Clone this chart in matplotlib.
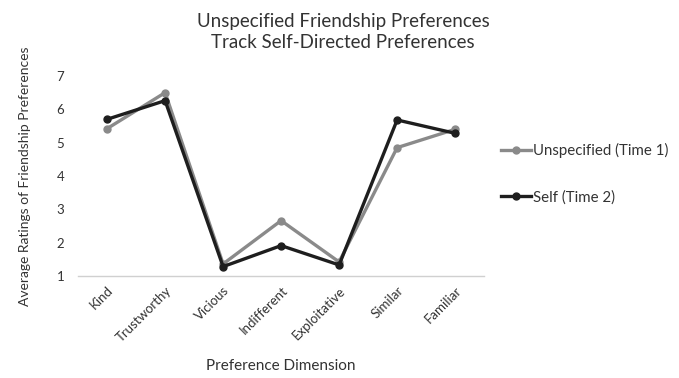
import matplotlib.pyplot as plt
import numpy as np

categories = ['Kind', 'Trustworthy', 'Vicious', 'Indifferent', 'Exploitative', 'Similar', 'Familiar']
unspecified = [5.42, 6.50, 1.36, 2.66, 1.42, 4.85, 5.40]
self_pref = [5.70, 6.26, 1.28, 1.91, 1.33, 5.68, 5.28]
yticks = [1, 2, 3, 4, 5, 6, 7]

plt.rcParams['font.family'] = ['Lato', 'DejaVu Sans']

fig = plt.figure(figsize=(6.79, 3.78), dpi=100)
ax = fig.add_axes([0.115, 0.27, 0.598, 0.529])

x = np.arange(len(categories))
ax.plot(x, unspecified, color='#8a8a8a', lw=2.4, marker='o', ms=5,
        label='Unspecified (Time 1)', zorder=2)
ax.plot(x, self_pref, color='#1e1e1e', lw=2.4, marker='o', ms=5,
        label='Self (Time 2)', zorder=3)

ax.set_xlim(-0.5, len(categories) - 0.5)
ax.set_ylim(1, 7)
ax.set_yticks(yticks)
ax.set_xticks(x)
ax.set_xticklabels(categories, rotation=45, ha='right', rotation_mode='anchor', fontsize=9.5, color='#333333')
ax.tick_params(axis='y', length=0, labelsize=9.5, labelcolor='#333333', pad=10)
ax.tick_params(axis='x', length=0, pad=6)

for s in ['top', 'right', 'left']:
    ax.spines[s].set_visible(False)
ax.spines['bottom'].set_color('#d0d0d0')
ax.spines['bottom'].set_linewidth(1)

ax.set_ylabel('Average Ratings of Friendship Preferences', fontsize=10, color='#333333', labelpad=18)
ax.set_xlabel('Preference Dimension', fontsize=11, color='#333333', labelpad=11)
fig.text(0.505, 0.915, 'Unspecified Friendship Preferences\nTrack Self-Directed Preferences',
         ha='center', va='center', fontsize=13.5, color='#333333', linespacing=1.25)

leg = fig.legend(loc='center left', bbox_to_anchor=(0.718, 0.54), frameon=False, fontsize=10.8,
                 handlelength=2.0, handletextpad=0.1, labelspacing=2.1, labelcolor='#333333')

fig.savefig('out.png', dpi=100)
